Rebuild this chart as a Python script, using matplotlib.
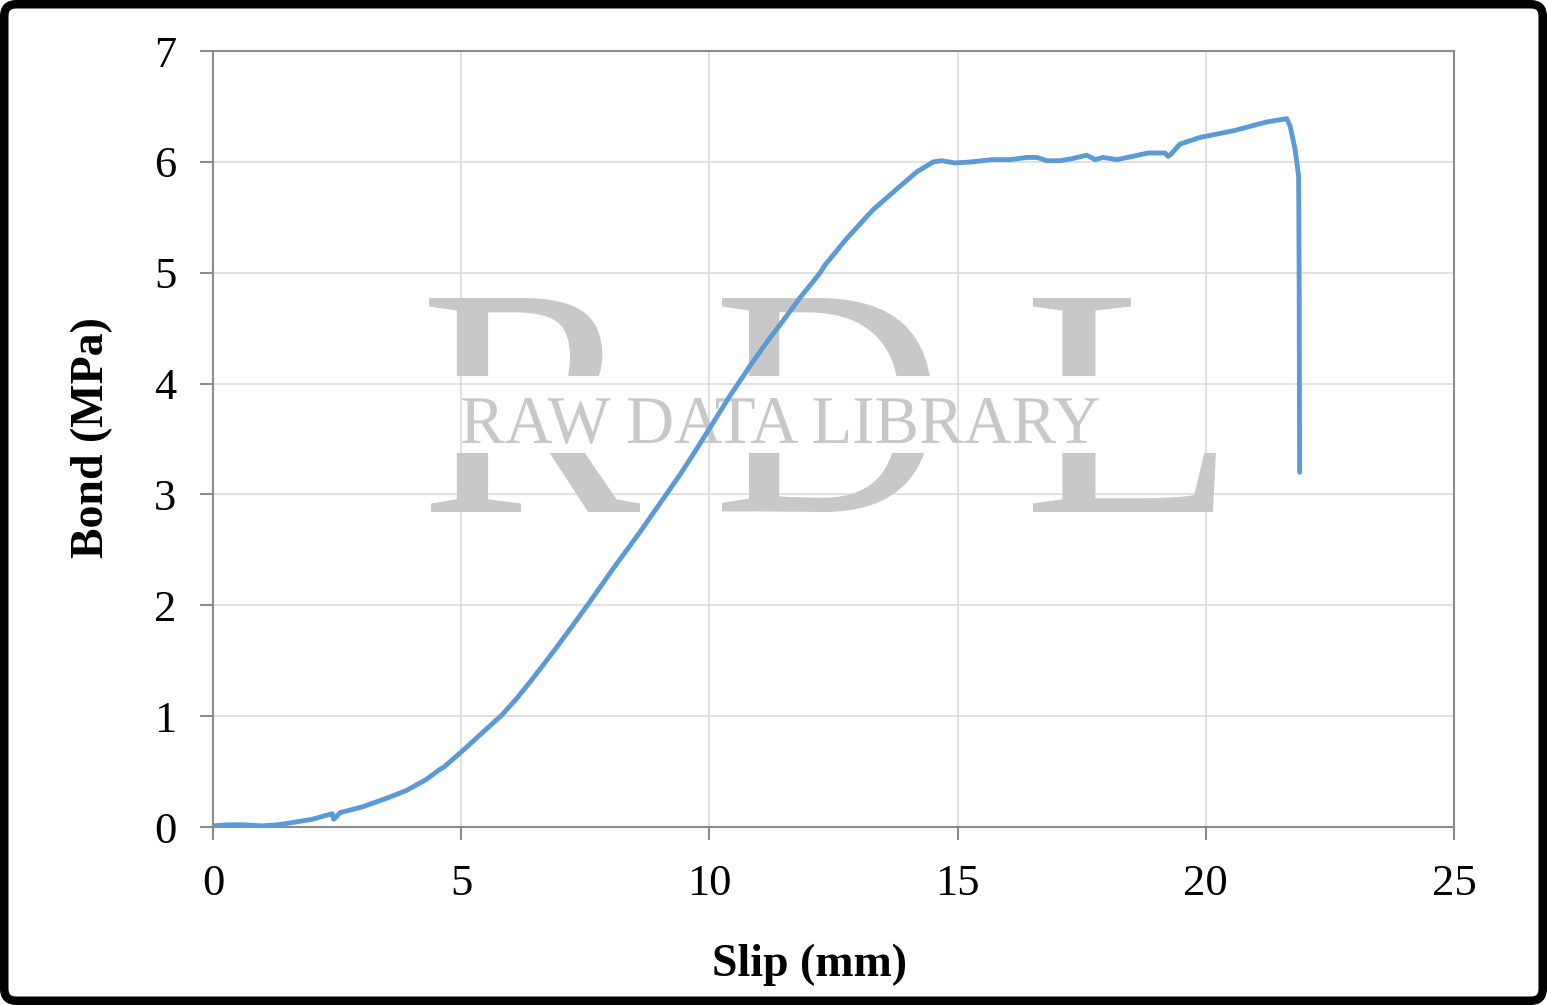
import matplotlib
matplotlib.use("Agg")
import matplotlib.pyplot as plt
import matplotlib.transforms as mtransforms
from matplotlib.textpath import TextPath
from matplotlib.patches import PathPatch, FancyBboxPatch
from matplotlib.font_manager import FontProperties

# bond-slip curve
slip = [0.0, 0.3, 0.6, 1.0, 1.3, 1.6, 2.0, 2.4, 2.43, 2.48,
        2.56, 3.0, 3.5, 3.9, 4.3, 4.57, 4.65, 5.01, 5.4, 5.82,
        6.1, 6.39, 6.65, 6.92, 7.25, 7.59, 8.06, 8.6, 9.1, 9.41,
        9.7, 10.01, 10.4, 10.82, 11.15, 11.49, 11.8, 12.09, 12.23, 12.33,
        12.77, 13.3, 13.84, 14.18, 14.51, 14.68, 14.95,
        15.29, 15.69, 16.06, 16.4, 16.6, 16.8, 17.06, 17.32, 17.6, 17.77,
        17.93, 18.21, 18.53, 18.84, 19.18, 19.24, 19.3, 19.48, 19.88, 20.55,
        21.23, 21.63, 21.7, 21.8, 21.87, 21.88, 21.89]
bond = [0.01, 0.02, 0.02, 0.01, 0.02, 0.04, 0.07, 0.12, 0.07, 0.09,
        0.13, 0.18, 0.26, 0.33, 0.43, 0.52, 0.54, 0.68, 0.84, 1.01,
        1.15, 1.31, 1.46, 1.62, 1.82, 2.03, 2.33, 2.66, 2.98, 3.18,
        3.38, 3.60, 3.88, 4.16, 4.37, 4.57, 4.76, 4.92, 5.00, 5.07,
        5.31, 5.57, 5.78, 5.91, 6.00, 6.01, 5.99,
        6.00, 6.02, 6.02, 6.04, 6.04, 6.01, 6.01, 6.03, 6.06, 6.02,
        6.04, 6.02, 6.05, 6.08, 6.08, 6.05, 6.07, 6.16, 6.22, 6.28,
        6.36, 6.39, 6.32, 6.11, 5.87, 5.05, 3.20]

x_ticks = [0, 5, 10, 15, 20, 25]
y_ticks = [0, 1, 2, 3, 4, 5, 6, 7]

W, H = 1547, 1005
plt.rcParams['font.family'] = ['Liberation Serif', 'DejaVu Serif']

fig = plt.figure(figsize=(W / 100, H / 100), dpi=100)
ax = fig.add_axes([213 / W, 1 - 827 / H, (1454 - 213) / W, (827 - 51) / H])

ax.plot(slip, bond, color='#5b9bd5', lw=3.5, solid_joinstyle='round',
        solid_capstyle='round', zorder=5)

ax.set_xlim(0, 25)
ax.set_ylim(0, 7)
ax.set_xticks(x_ticks)
ax.set_yticks(y_ticks)
ax.grid(True, color='#d9d9d9', lw=1.1, zorder=0)
ax.set_axisbelow(True)
for s in ax.spines.values():
    s.set_color('#8c8c8c')
    s.set_linewidth(1.5)
ax.tick_params(direction='out', length=9.4, width=1.5, color='#8c8c8c',
               labelsize=32, labelcolor='black')
ax.tick_params(axis='y', pad=17)
ax.tick_params(axis='x', pad=17)

ax.set_xlabel('Slip (mm)', fontsize=33, fontweight='bold')
ax.set_ylabel('Bond (MPa)', fontsize=33, fontweight='bold')
ax.xaxis.set_label_coords((810 - 213) / 1241, (827 - 944) / 776)
ax.yaxis.set_label_coords((113 - 213) / 1241, (827 - 438) / 776)

# watermark
wm_color = '#c8c8c8'
fp = FontProperties(family='Liberation Serif')


def fitted(s, box, clip=None):
    x0, y0, x1, y1 = box
    path = TextPath((0, 0), s, size=100, prop=fp)
    ext = path.get_extents()
    tr = (mtransforms.Affine2D()
          .translate(-ext.x0, -ext.y0)
          .scale((x1 - x0) / ext.width / W, (y1 - y0) / ext.height / H)
          .translate(x0 / W, (H - y1) / H) + fig.transFigure)
    p = PathPatch(path, transform=tr, facecolor=wm_color, edgecolor='none', zorder=2)
    ax.add_patch(p)
    if clip is not None:
        cy0, cy1 = clip
        bb = mtransforms.Bbox.from_extents(0, (H - cy1) / H, 1, (H - cy0) / H)
        p.set_clip_box(mtransforms.TransformedBbox(bb, fig.transFigure))
    return p


for letter, (lx0, lx1) in zip('RDL', [(429, 640), (722, 932), (1033, 1216)]):
    fitted(letter, (lx0, 298, lx1, 512), clip=(0, 376))
    fitted(letter, (lx0, 298, lx1, 512), clip=(453, H))
fitted('RAW DATA LIBRARY', (462, 398, 1099, 444))

# outer black frame
lw_px = 8.5
frame = FancyBboxPatch((lw_px / 2 / 100, lw_px / 2 / 100),
                       (W - lw_px) / 100, (H - lw_px) / 100,
                       boxstyle='round,pad=0,rounding_size=0.12',
                       transform=fig.dpi_scale_trans, facecolor='none',
                       edgecolor='black', lw=lw_px * 0.72)
fig.add_artist(frame)

fig.savefig('out.png', dpi=100)
